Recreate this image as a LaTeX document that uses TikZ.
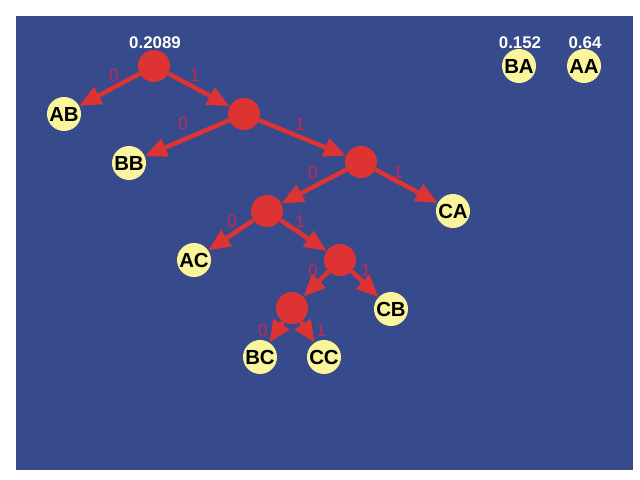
\documentclass[tikz,border=0pt]{standalone}
\usepackage{fontspec}
\setmainfont{Liberation Sans}
\usetikzlibrary{arrows.meta,positioning}
\definecolor{bgblue}{RGB}{54,74,140}
\definecolor{nodered}{RGB}{221,51,51}
\definecolor{leafyellow}{RGB}{250,245,155}
\definecolor{bitred}{RGB}{196,42,84}
\tikzset{
  inner/.style={circle, fill=nodered, minimum size=0.8cm, inner sep=0pt},
  leaf/.style={circle, fill=leafyellow, minimum size=0.85cm, inner sep=0pt, font=\fontsize{14.5}{14.5}\selectfont\bfseries},
  prob/.style={text=white, font=\fontsize{12}{12}\selectfont\bfseries},
  bit/.style={text=bitred, font=\fontsize{12.5}{12.5}\selectfont},
  arrow/.style={draw=nodered, line width=3.2pt, -{Triangle[length=0.55cm,width=0.46cm]}}
}
\begin{document}
\begin{tikzpicture}[x=0.025cm, y=-0.025cm]
    \useasboundingbox (0,0) rectangle (640,480);
    \fill[white] (0,0) rectangle (640,480);
    \fill[bgblue] (16,16) rectangle (633,470);

    % inner nodes
    \node (root) [inner] at (154,66) {};
    \node (n2) [inner] at (244,114) {};
    \node (n3) [inner] at (361,162) {};
    \node (n4) [inner] at (267,211) {};
    \node (n5) [inner] at (340,260) {};
    \node (n6) [inner] at (292,308) {};

    % leaves
    \node (ab) [leaf] at (64,114) {AB};
    \node (bb) [leaf] at (129,163) {BB};
    \node (ca) [leaf] at (453,211) {CA};
    \node (ac) [leaf] at (194,260) {AC};
    \node (cb) [leaf] at (391,309) {CB};
    \node (bc) [leaf] at (260,357) {BC};
    \node (cc) [leaf] at (324,357) {CC};
    \node (ba) [leaf] at (519,66) {BA};
    \node (aa) [leaf] at (584,66) {AA};

    % probabilities
    \node (proot) [prob] at (155,43) {0.2089};
    \node (pba) [prob] at (520,43) {0.152};
    \node (paa) [prob] at (585,43) {0.64};

    \draw [arrow] (root) -- (ab);
    \draw [arrow] (root) -- (n2);
    \draw [arrow] (n2) -- (bb);
    \draw [arrow] (n2) -- (n3);
    \draw [arrow] (n3) -- (n4);
    \draw [arrow] (n3) -- (ca);
    \draw [arrow] (n4) -- (ac);
    \draw [arrow] (n4) -- (n5);
    \draw [arrow] (n5) -- (n6);
    \draw [arrow] (n5) -- (cb);
    \draw [arrow] (n6) -- (bc);
    \draw [arrow] (n6) -- (cc);

    % bit labels
    \node (b1) [bit] at (114,75) {0};
    \node (b2) [bit] at (195,75) {1};
    \node (b3) [bit] at (183,123) {0};
    \node (b4) [bit] at (300,124) {1};
    \node (b5) [bit] at (313,172) {0};
    \node (b6) [bit] at (398,172) {1};
    \node (b7) [bit] at (232,221) {0};
    \node (b8) [bit] at (300,221) {1};
    \node (b9) [bit] at (313,270) {0};
    \node (b10) [bit] at (366,270) {1};
    \node (b11) [bit] at (263,330) {0};
    \node (b12) [bit] at (321,330) {1};
\end{tikzpicture}
\end{document}
